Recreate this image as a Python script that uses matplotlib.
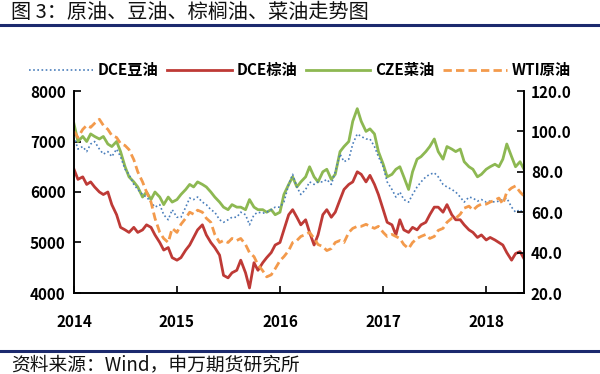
import matplotlib
matplotlib.use("Agg")
import matplotlib.pyplot as plt
import pandas as pd
from matplotlib.lines import Line2D

plt.rcParams['font.family'] = ['Noto Sans CJK SC', 'DejaVu Sans']

# ---- data (semi-monthly readings) ----
dates = pd.date_range('2014-01-01', periods=106, freq='SMS')

soy_dce = [7100, 6850, 6900, 6800, 6950, 7000, 6850, 6750, 6800, 6700, 6850, 6700,
           6450, 6350, 6150, 6050, 5950, 5900, 5800, 5700, 5750, 5550, 5450, 5650,
           5500, 5500, 5700, 5880, 5850, 5900, 5800, 5750, 5650, 5600, 5450, 5400,
           5450, 5500, 5500, 5600, 5550, 5350, 5550, 5600, 5580, 5600, 5650, 5700,
           5700, 5800, 6150, 6350, 6100, 5950, 6050, 6200, 6150, 6200, 6200, 6250,
           6150, 6400, 6750, 6600, 6650, 6950, 7150, 7100, 7050, 7050, 6900, 6700,
           6500, 6200, 6050, 5900, 6000, 5850, 5800, 5950, 6100, 6200, 6300, 6350,
           6380, 6300, 6150, 6100, 6050, 6000, 5900, 5800, 5900, 5880, 5820, 5850,
           5800, 5820, 5800, 5820, 5850, 5880, 5700, 5600, 5650, 5550]

palm_dce = [6450, 6250, 6300, 6150, 6200, 6100, 6000, 5950, 6000, 5750, 5550, 5300,
            5250, 5200, 5300, 5200, 5250, 5350, 5300, 5150, 5000, 4850, 4900, 4700,
            4650, 4700, 4850, 4950, 5100, 5250, 5350, 5150, 5000, 4900, 4750, 4350,
            4300, 4400, 4450, 4650, 4400, 4100, 4600, 4450, 4600, 4700, 4800, 4950,
            5000, 5250, 5550, 5650, 5500, 5350, 5450, 5200, 4950, 5150, 5550, 5650,
            5500, 5600, 5850, 6050, 6150, 6200, 6400, 6350, 6200, 6330, 6150, 5950,
            5650, 5400, 5350, 5150, 5450, 5250, 5200, 5300, 5250, 5350, 5400, 5550,
            5700, 5700, 5600, 5750, 5550, 5450, 5450, 5350, 5250, 5200, 5100, 5150,
            5050, 5100, 5050, 5000, 4950, 4800, 4650, 4780, 4820, 4680]

rapeseed_cze = [7350, 7000, 7100, 7000, 7150, 7100, 7050, 7100, 6950, 6900, 7000, 6800,
                6500, 6300, 6200, 6100, 5900, 6000, 5850, 6000, 5900, 5750, 5900, 5800,
                5850, 5950, 6050, 6150, 6100, 6200, 6150, 6100, 6000, 5900, 5800, 5700,
                5650, 5750, 5700, 5700, 5650, 5850, 5700, 5650, 5650, 5600, 5650, 5550,
                5600, 5950, 6150, 6300, 6100, 6200, 6300, 6500, 6300, 6200, 6400, 6450,
                6250, 6350, 6800, 6900, 7000, 7400, 7650, 7400, 7200, 7250, 7150, 6800,
                6550, 6300, 6350, 6450, 6500, 6300, 6050, 6400, 6650, 6700, 6800, 6900,
                7050, 6800, 6650, 6900, 6850, 6800, 6850, 6600, 6500, 6450, 6300, 6350,
                6450, 6500, 6550, 6500, 6650, 6950, 6700, 6500, 6600, 6450]

wti = [100, 97, 101, 103, 102, 104, 106, 103, 101, 98, 97, 94,
       93, 91, 86, 80, 75, 70, 65, 57, 50, 47, 45, 52,
       50, 54, 57, 60, 59, 61, 60, 57, 55, 49, 45, 46,
       45, 47, 46, 47, 44, 40, 38, 34, 31, 28, 29, 32,
       36, 38, 41, 45, 46, 48, 49, 50, 47, 44, 43, 41,
       42, 45, 46, 45, 50, 52, 53, 53, 54, 53, 52, 53,
       50, 48, 49, 48, 47, 44, 42, 45, 47, 48, 49, 47,
       48, 51, 52, 55, 57, 57, 59, 62, 63, 61, 63, 64,
       64, 65, 66, 67, 64, 70, 72, 73, 70, 68]

year_ticks = ['2014', '2015', '2016', '2017', '2018']
left_ticks = [4000, 5000, 6000, 7000, 8000]
right_ticks = [20.0, 40.0, 60.0, 80.0, 100.0, 120.0]

labels = ['DCE豆油', 'DCE棕油', 'CZE菜油', 'WTI原油']
colors = ['#4A7EBB', '#BE3A36', '#8DB852', '#F39A4C']

# ---- figure ----
fig = plt.figure(figsize=(6.0, 3.74), dpi=100)
ax = fig.add_axes([74/600, 1-293/374, 450/600, 202/374])
ax2 = ax.twinx()

ax.plot(dates, soy_dce, color=colors[0], lw=1.2, ls=(0, (1, 1.5)), zorder=3)
ax.plot(dates, palm_dce, color=colors[1], lw=2.0, zorder=2)
ax.plot(dates, rapeseed_cze, color=colors[2], lw=2.0, zorder=2)
ax2.plot(dates, wti, color=colors[3], lw=2.0, ls=(0, (3, 1.5)))

ax.set_xlim(dates[0], dates[-1])
ax.set_ylim(4000, 8000)
ax2.set_ylim(20, 120)

tick_dates = [pd.Timestamp(y + '-01-01') for y in year_ticks]
ax.set_xticks(tick_dates)
ax.set_xticklabels(year_ticks)
ax.set_yticks(left_ticks)
ax.set_yticklabels([str(v) for v in left_ticks])
ax2.set_yticks(right_ticks)
ax2.set_yticklabels(['%.1f' % v for v in right_ticks])

for a in (ax, ax2):
    a.spines['top'].set_visible(False)
    for s in a.spines.values():
        s.set_linewidth(1.2)
        s.set_color('black')
ax.tick_params(axis='x', direction='in', length=5, width=1.2, pad=15, labelsize=11)
ax.tick_params(axis='y', direction='in', length=5, width=1.2, pad=6, labelsize=11)
ax2.tick_params(axis='y', direction='in', length=5, width=1.2, pad=5, labelsize=11)
for lab in ax.get_xticklabels() + ax.get_yticklabels() + ax2.get_yticklabels():
    lab.set_fontweight('bold')

handles = [Line2D([], [], color=colors[0], lw=1.2, ls=(0, (1, 1.5))),
           Line2D([], [], color=colors[1], lw=2.0),
           Line2D([], [], color=colors[2], lw=2.0),
           Line2D([], [], color=colors[3], lw=2.0, ls=(0, (3, 1.5)))]
fig.legend(handles, labels, loc='center', bbox_to_anchor=(0.5, 1-70/374), ncol=4,
           frameon=False, prop={'weight': 'bold', 'size': 11}, handlelength=4.2,
           handletextpad=0.3, columnspacing=0.6)

# title and footer
fig.text(0.018, 1-12/374, '图 3：原油、豆油、棕榈油、菜油走势图', fontsize=14.5,
         va='center', ha='left', color='#111111')
fig.add_artist(Line2D([0, 1], [1-24.5/374, 1-24.5/374], color='#1C2A6E', lw=2.2,
                      transform=fig.transFigure))
fig.add_artist(Line2D([0, 1], [1-351/374, 1-351/374], color='#1C2A6E', lw=2.2,
                      transform=fig.transFigure))
fig.text(0.018, 1-365/374, '资料来源：Wind，申万期货研究所', fontsize=13.5,
         va='center', ha='left', color='#111111')

fig.savefig('out.png', dpi=100)
